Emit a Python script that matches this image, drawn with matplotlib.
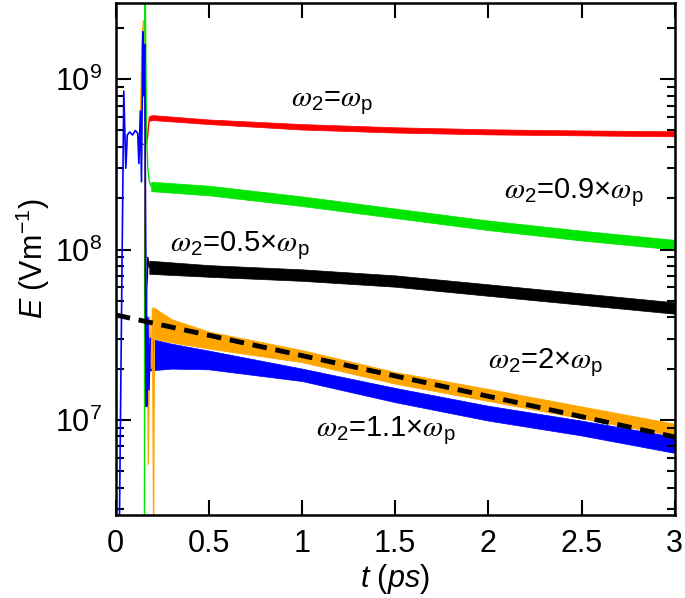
import numpy as np
import matplotlib
matplotlib.use("Agg")
import matplotlib.pyplot as plt

plt.rcParams['font.family'] = ['Liberation Sans', 'DejaVu Sans']
plt.rcParams['mathtext.fontset'] = 'custom'
plt.rcParams['mathtext.rm'] = 'Liberation Sans'
plt.rcParams['mathtext.it'] = 'Liberation Sans:italic'
plt.rcParams['mathtext.cal'] = 'STIXGeneral:italic'

# bandas ruidosas (estado estacionario): tiempo, limite inferior y superior
t_rojo = [0.18, 0.2, 0.5, 1.0, 1.5, 2.0, 2.5, 3.0]
rojo_hi = [6.1e8, 6.15e8, 5.8e8, 5.45e8, 5.22e8, 5.08e8, 5.0e8, 4.95e8]
rojo_lo = [5.7e8, 5.75e8, 5.45e8, 5.06e8, 4.86e8, 4.74e8, 4.68e8, 4.62e8]

t_verde = [0.19, 0.5, 1.0, 1.5, 2.0, 2.5, 3.0]
verde_hi = [2.50e8, 2.37e8, 2.05e8, 1.74e8, 1.48e8, 1.29e8, 1.14e8]
verde_lo = [2.20e8, 2.08e8, 1.80e8, 1.53e8, 1.30e8, 1.13e8, 1.0e8]

t_negro = [0.18, 0.5, 1.0, 1.5, 2.0, 2.5, 3.0]
negro_hi = [8.6e7, 8.1e7, 7.65e7, 7.05e7, 6.25e7, 5.53e7, 4.9e7]
negro_lo = [7.2e7, 6.92e7, 6.55e7, 6.05e7, 5.35e7, 4.74e7, 4.2e7]

t_naranja = [0.2, 0.3, 0.5, 1.0, 1.5, 2.0, 2.5, 3.0]
naranja_hi = [4.6e7, 3.9e7, 3.3e7, 2.57e7, 1.91e7, 1.52e7, 1.20e7, 9.5e6]
naranja_lo = [3.0e7, 2.85e7, 2.62e7, 2.18e7, 1.63e7, 1.29e7, 1.02e7, 8.05e6]

t_azul = [0.18, 0.3, 0.5, 1.0, 1.5, 2.0, 2.5, 3.0]
azul_hi = [3.0e7, 2.8e7, 2.55e7, 2.0e7, 1.54e7, 1.21e7, 9.9e6, 7.95e6]
azul_lo = [1.95e7, 2.0e7, 1.98e7, 1.69e7, 1.27e7, 0.99e7, 8.1e6, 6.4e6]

# transitorios iniciales
tr_azul_t = [0.02, 0.043, 0.054, 0.062, 0.075, 0.09, 0.105, 0.118, 0.124, 0.132,
             0.138, 0.145, 0.15, 0.155, 0.16, 0.166, 0.172, 0.178, 0.185]
tr_azul_v = [2.7e6, 8.5e8, 3.0e8, 4.7e8, 4.9e8, 4.7e8, 5.0e8, 4.8e8, 3.2e8, 6.5e8,
             2.5e8, 1.9e9, 8e8, 1.6e9, 1.5e8, 1.2e7, 4e7, 1.5e7, 3.0e7]
tr_naranja_t = [0.13, 0.14, 0.148, 0.155, 0.16, 0.168, 0.175, 0.182, 0.19, 0.197, 0.203, 0.208]
tr_naranja_v = [4e8, 1.5e9, 2.2e9, 6e8, 8e7, 6e7, 5.5e6, 4e7, 2e7, 4.5e7, 2.7e6, 4.0e7]
tr_verde_t = [0.154, 0.156, 0.158, 0.165, 0.172, 0.18, 0.19]
tr_verde_v = [2.7e6, 3.5e9, 3.5e9, 5e8, 3.0e8, 2.5e8, 2.35e8]
tr_rojo_t = [0.13, 0.16, 0.17, 0.18]
tr_rojo_v = [4.2e8, 4.1e8, 4.5e8, 5.9e8]
tr_negro_t = [0.155, 0.162, 0.167, 0.172, 0.18]
tr_negro_v = [4e8, 1.2e7, 5e7, 9e7, 7.9e7]

# ajuste exponencial (linea discontinua)
t_ajuste = [0.0, 3.0]
E_ajuste = [4.13e7, 7.94e6]

etiquetas = [r'$\mathcal{\omega}_2$=$\mathcal{\omega}_\mathrm{p}$',
             r'$\mathcal{\omega}_2$=0.9×$\mathcal{\omega}_\mathrm{p}$',
             r'$\mathcal{\omega}_2$=0.5×$\mathcal{\omega}_\mathrm{p}$',
             r'$\mathcal{\omega}_2$=2×$\mathcal{\omega}_\mathrm{p}$',
             r'$\mathcal{\omega}_2$=1.1×$\mathcal{\omega}_\mathrm{p}$']
etiq_x = [1.16, 2.46, 0.667, 2.31, 1.45]
etiq_y = [7.2e8, 2.17e8, 1.05e8, 2.17e7, 8.7e6]

rojo = '#ff0000'
verde = '#00e600'
naranja = '#ffa500'
azul = '#0000ff'

fig = plt.figure(figsize=(6.85, 5.98), dpi=100)
ax = fig.add_axes([0.169, 0.139, 0.816, 0.856])

ax.plot(tr_rojo_t, tr_rojo_v, color=rojo, lw=1)
ax.fill_between(t_rojo, rojo_lo, rojo_hi, color=rojo, lw=0.5)
ax.plot(tr_verde_t, tr_verde_v, color=verde, lw=1)
ax.fill_between(t_verde, verde_lo, verde_hi, color=verde, lw=0.5)
ax.plot(tr_negro_t, tr_negro_v, color='black', lw=1)
ax.fill_between(t_negro, negro_lo, negro_hi, color='black', lw=0.5)
ax.plot(tr_naranja_t, tr_naranja_v, color=naranja, lw=1)
ax.fill_between(t_naranja, naranja_lo, naranja_hi, color=naranja, lw=0.5)
ax.plot(tr_azul_t, tr_azul_v, color=azul, lw=1.2)
ax.fill_between(t_azul, azul_lo, azul_hi, color=azul, lw=0.5)
ax.plot(t_ajuste, E_ajuste, color='black', lw=3.5, ls=(0, (3, 1.8)))

for txt, x, y in zip(etiquetas, etiq_x, etiq_y):
    ax.text(x, y, txt, fontsize=21, ha='center', va='center')

ax.set_yscale('log')
ax.set_xlim(0, 3)
ax.set_ylim(2.77e6, 2.8e9)
ax.set_xticks([0, 0.5, 1, 1.5, 2, 2.5, 3])
ax.set_xticklabels(['0', '0.5', '1', '1.5', '2', '2.5', '3'])
ax.tick_params(which='both', direction='in', top=True, right=True, labelsize=22, width=1.5)
ax.tick_params(which='major', length=11, pad=10)
ax.tick_params(which='minor', length=6)
ax.tick_params(axis='x', which='minor', bottom=False, top=False)
for s in ax.spines.values():
    s.set_linewidth(1.8)

ax.set_xlabel(r'$t$ ($ps$)', fontsize=22, labelpad=2)
ax.set_ylabel(r'$E$ (Vm$^{-1}$)', fontsize=22, labelpad=2)

fig.savefig('out.png', dpi=100)
